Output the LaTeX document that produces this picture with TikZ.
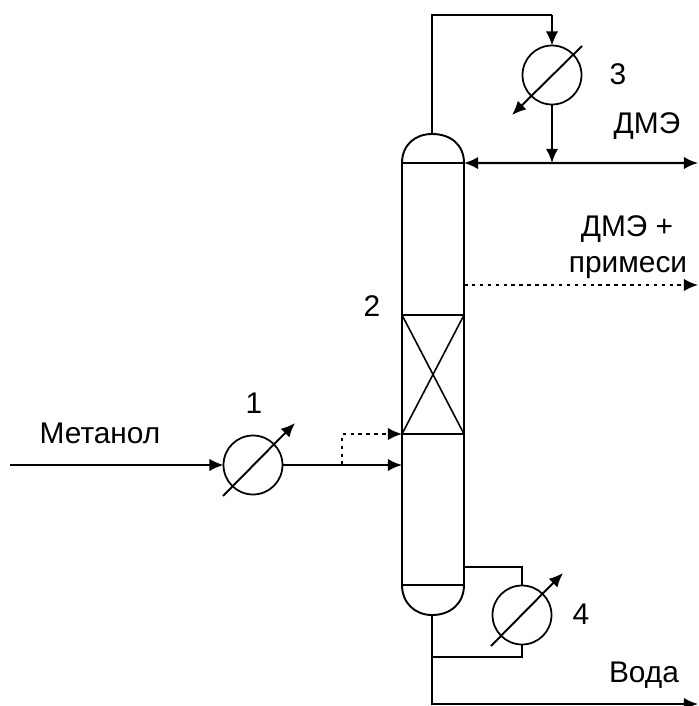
\documentclass[tikz,border=0pt]{standalone}
\usepackage{fontspec}
\setmainfont{Liberation Sans}
\usetikzlibrary{calc,arrows.meta}
\tikzset{
    >={Latex[length=8pt,width=7pt]},
    pipe/.style={line width=1.2pt},
    thinpipe/.style={line width=0.9pt},
    dotpipe/.style={line width=1pt,dash pattern=on 2pt off 2.5pt},
    hxarrow/.style={line width=1.1pt},
    hx/.style={draw,circle,line width=1pt,inner sep=0pt,outer sep=0pt,minimum size=1.18cm},
    shell/.style={draw,rectangle,line width=1.1pt,inner sep=0pt,outer sep=0pt,minimum width=1.24cm},
    lbl/.style={inner sep=0pt,font=\fontsize{17}{19}\selectfont},
}
\begin{document}
\begin{tikzpicture}[x=0.02cm,y=-0.02cm]
\useasboundingbox (0,0) rectangle (698,706);

\node[shell,minimum height=8.44cm] (col) at (433,374) {}; % column shell
\node[shell,minimum height=2.38cm] (bed) at (433,374.5) {}; % packed bed
\node[hx] (hx1) at (253,465) {};
\node[hx] (hx3) at (552,75) {};
\node[hx] (hx4) at (522,615) {};

\coordinate (domeTop) at (432,134);
\coordinate (domeBot) at (432,615);
\coordinate (topTurn) at (552,15);
\coordinate (feedIn) at (10,465);
\coordinate (feedCol) at (402,465);
\coordinate (feedTap) at (342,465);
\coordinate (distOut) at (698,163);
\coordinate (sideCol) at (464,285);
\coordinate (sideOut) at (698,285);
\coordinate (rebTop) at (464,567);
\coordinate (rebBot) at (432,657);
\coordinate (waterOut) at (698,704);

\draw[line width=1.1pt] (col.north west) .. controls (402,145) and (415,134) .. (domeTop) .. controls (451,134) and (464,145) .. (col.north east) ; % top cap
\draw[line width=1.1pt] (col.south west) .. controls (402,603) and (415,615) .. (domeBot) .. controls (451,615) and (464,603) .. (col.south east) ; % bottom cap
\draw[line width=0.9pt] (bed.north west) -- (bed.south east) ;
\draw[line width=0.9pt] (bed.north east) -- (bed.south west) ;

\draw[thinpipe,->] (feedIn) -- (hx1.west) ; % methanol
\draw[pipe,->] (hx1.east) -- (feedCol) ;
\draw[dotpipe,->] (feedTap) |- (bed.south west) ;
\draw[thinpipe] (domeTop) |- (topTurn) ; % overhead
\draw[thinpipe,->] (topTurn) -- (hx3.north) ;
\draw[pipe,->] (hx3.south) -- (hx3.south |- distOut) ;
\draw[pipe,<->] (col.north east) -- (distOut) ; % product
\draw[dotpipe,->] (sideCol) -- (sideOut) ; % side draw
\draw[thinpipe] (rebTop) -| (hx4.north) ; % reboiler
\draw[thinpipe] (hx4.south) |- (rebBot) ;
\draw[pipe,->] (domeBot) |- (waterOut) ; % water

\draw[hxarrow,->] ([shift={(-30,31)}]hx1.center) -- ([shift={(42,-42)}]hx1.center) ;
\draw[hxarrow,->] ([shift={(30,-29)}]hx3.center) -- ([shift={(-40,40)}]hx3.center) ;
\draw[hxarrow,->] ([shift={(-31,31)}]hx4.center) -- ([shift={(41,-42)}]hx4.center) ;

\node[lbl] (lblFeed) at (100,433) {Метанол};
\node[lbl] (lblOne) at (254,403) {1};
\node[lbl] (lblTwo) at (372,306) {2};
\node[lbl] (lblThree) at (618,74) {3};
\node[lbl] (lblFour) at (581,614) {4};
\node[lbl] (lblDist) at (647,126) {ДМЭ};
\node[lbl] (lblSideA) at (627,229) {ДМЭ +};
\node[lbl] (lblSideB) at (628,268) {примеси};
\node[lbl] (lblWater) at (644,675) {Вода};
\end{tikzpicture}
\end{document}
